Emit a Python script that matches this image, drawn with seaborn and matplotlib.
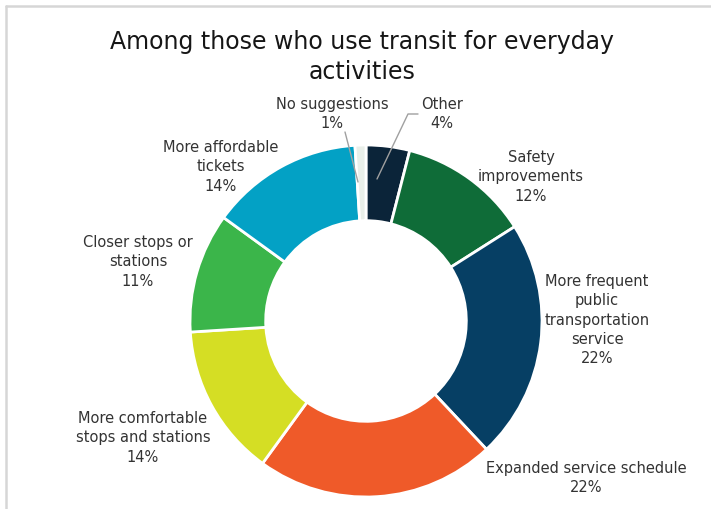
import matplotlib
matplotlib.use("Agg")
import matplotlib.pyplot as plt
import seaborn as sns
from matplotlib.lines import Line2D

# Suggested improvements among everyday transit riders (clockwise from top)
categories = [
    "Other",
    "Safety\nimprovements",
    "More frequent\npublic\ntransportation\nservice",
    "Expanded service schedule",
    "More comfortable\nstops and stations",
    "Closer stops or\nstations",
    "More affordable\ntickets",
    "No suggestions",
]
shares = [4, 12, 22, 22, 14, 11, 14, 1]
colors = ["#0b2439", "#0f6c38", "#063f64", "#ef5a29",
          "#d5de24", "#3bb54a", "#03a1c5", "#e9efe9"]

title = "Among those who use transit for everyday\nactivities"

sns.set_theme(style="white")
plt.rcParams["font.family"] = ["DejaVu Sans"]

W, H = 711, 510
fig = plt.figure(figsize=(W / 100, H / 100), dpi=100)
fig.patch.set_facecolor("white")

# donut geometry in pixels
cx, cy, r = 366, 322, 176
ax = fig.add_axes([(cx - r) / W, (H - cy - r) / H, 2 * r / W, 2 * r / H])
ax.pie(shares, colors=colors, startangle=90, counterclock=False, radius=1,
       wedgeprops=dict(width=0.43, edgecolor="white", linewidth=2))
ax.set_xlim(-1, 1)
ax.set_ylim(-1, 1)
ax.set_aspect("equal")
ax.axis("off")


def fx(x):
    return x / W


def fy(y):
    return 1 - y / H


# light frame around the panel
fig.add_artist(Line2D([fx(6), fx(711)], [fy(7), fy(7)], color="#d6d6d6", lw=1.8))
fig.add_artist(Line2D([fx(6), fx(6)], [fy(7), fy(510)], color="#d6d6d6", lw=1.8))

fig.text(fx(362), fy(57), title, ha="center", va="center", fontsize=17,
         color="#161616", linespacing=1.3)

label_pos = {
    "Other": (442, 114),
    "Safety\nimprovements": (531, 177),
    "More frequent\npublic\ntransportation\nservice": (597, 320),
    "Expanded service schedule": (586, 478),
    "More comfortable\nstops and stations": (143, 438),
    "Closer stops or\nstations": (138, 262),
    "More affordable\ntickets": (221, 167),
    "No suggestions": (332, 114),
}

for cat, val in zip(categories, shares):
    x, y = label_pos[cat]
    fig.text(fx(x), fy(y), f"{cat}\n{val}%", ha="center", va="center",
             fontsize=10.5, color="#333333", linespacing=1.35)

# leader lines for the thin slices
fig.add_artist(Line2D([fx(345), fx(358)], [fy(133), fy(183)], color="#a0a0a0", lw=1))
fig.add_artist(Line2D([fx(418), fx(408), fx(377)], [fy(115), fy(115), fy(180)],
                      color="#a0a0a0", lw=1))

fig.savefig("out.png", dpi=100, facecolor="white")
